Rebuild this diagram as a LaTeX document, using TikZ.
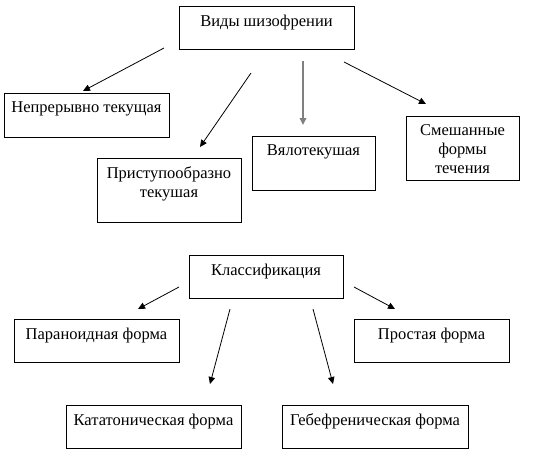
\documentclass[tikz,border=0pt]{standalone}
\usepackage{fontspec}
\setmainfont{Liberation Serif}
\usetikzlibrary{arrows.meta}

\begin{document}
\begin{tikzpicture}[x=1pt,y=-1pt,
  box/.style={draw,line width=1pt,inner sep=0pt,outer sep=0pt},
  lbl/.style={anchor=north,align=center,inner sep=0pt,yshift=-8.5pt,
    font=\fontsize{16.5}{19}\selectfont},
  arr/.style={line width=0.8pt,-{Triangle[length=7pt,width=6.5pt]}}]
  \useasboundingbox (0,0) rectangle (545,456);

  % types of schizophrenia
  \node[box,minimum width=175,minimum height=43,label={[lbl]north:Виды шизофрении}] (vidy) at (266.5,27.5) {};
  \node[box,minimum width=165,minimum height=44,label={[lbl]north:Непрерывно текущая}] (nepr) at (86.5,115) {};
  \node[box,minimum width=144,minimum height=64,label={[lbl]north:{Приступообразно\\текушая}}] (prist) at (169,190) {};
  \node[box,minimum width=123,minimum height=54,label={[lbl]north:Вялотекушая}] (vyalo) at (313.5,163) {};
  \node[box,minimum width=113,minimum height=64,label={[lbl]north:{Смешанные\\формы\\течения}}] (smesh) at (462.5,148) {};

  \coordinate (vidyA) at (164,48);   \coordinate (neprT) at (83,91);
  \coordinate (vidyB) at (251,73);   \coordinate (pristT) at (200,147);
  \coordinate (vidyC) at (303,61);   \coordinate (vyaloT) at (303,125);
  \coordinate (vidyD) at (344,62);   \coordinate (smeshT) at (426,104);
  \draw[arr] (vidyA) -- (neprT);
  \draw[arr] (vidyB) -- (pristT);
  \draw[arr,line width=2pt,gray] (vidyC) -- (vyaloT);
  \draw[arr] (vidyD) -- (smeshT);

  % classification
  \node[box,minimum width=154,minimum height=43,label={[lbl]north:Классификация}] (klass) at (266,276.5) {};
  \node[box,minimum width=165,minimum height=43,label={[lbl]north:Параноидная форма}] (paran) at (96.5,340.5) {};
  \node[box,minimum width=155,minimum height=43,label={[lbl]north:Простая форма}] (prost) at (431.5,340.5) {};
  \node[box,minimum width=175,minimum height=43,label={[lbl]north:Кататоническая форма}] (katat) at (153.5,426.5) {};
  \node[box,minimum width=186,minimum height=43,label={[lbl]north:Гебефреническая форма}] (gebef) at (375,426.5) {};

  \coordinate (klassA) at (179,287); \coordinate (paranT) at (138,309);
  \coordinate (klassB) at (230,309); \coordinate (katatT) at (210,384);
  \coordinate (klassC) at (313,309); \coordinate (gebefT) at (333,384);
  \coordinate (klassD) at (354,287); \coordinate (prostT) at (395,309);
  \draw[arr] (klassA) -- (paranT);
  \draw[arr] (klassB) -- (katatT);
  \draw[arr] (klassC) -- (gebefT);
  \draw[arr] (klassD) -- (prostT);
\end{tikzpicture}
\end{document}
